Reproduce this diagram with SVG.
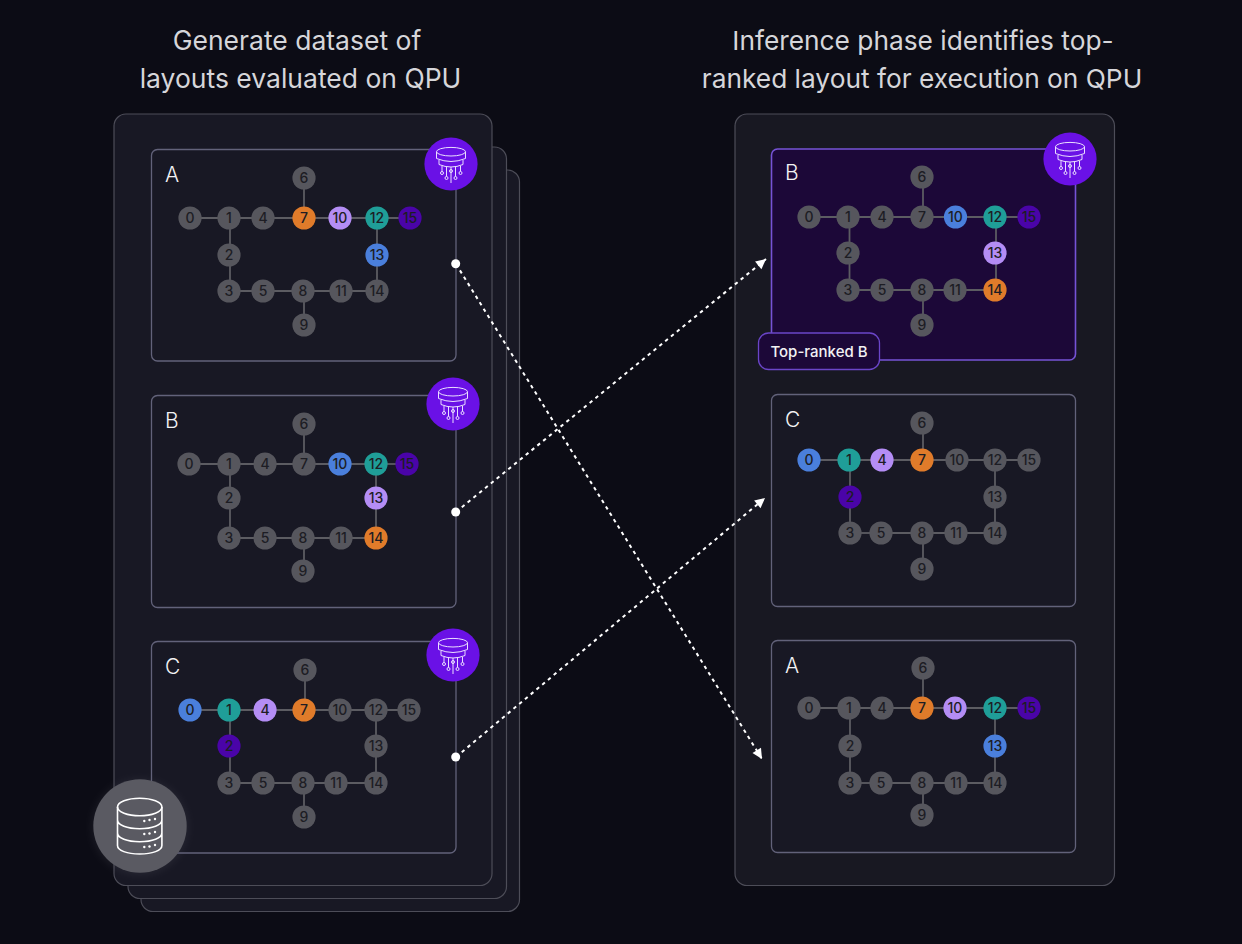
<svg xmlns="http://www.w3.org/2000/svg" width="1242" height="944" viewBox="0 0 1242 944">
<style>
.title{font:400 26.5px "Inter","Liberation Sans",sans-serif;fill:#d6d6da;text-anchor:middle}
.titler{font-size:26.3px}
.panel{fill:#181824;stroke:#4d4d58;stroke-width:1.2}
.panelr{fill:#181822;stroke:#4d4d58;stroke-width:1.2}
.card{fill:#181824;stroke:#62627a;stroke-width:1.3}
.cardhi{fill:#1c0838;stroke:#7653d6;stroke-width:1.6}
.pill{fill:#1c0838;stroke:#6a45c8;stroke-width:1.3}
.pilltext{font:500 15px "Inter","Liberation Sans",sans-serif;fill:#f2f2f4;text-anchor:middle}
.letter{font:300 21px "Inter","Liberation Sans",sans-serif;fill:#f2f2f4}
.edges line{stroke:#5c5c62;stroke-width:1.8}
.flow{stroke:#fff;stroke-width:2;stroke-dasharray:3.5 4;fill:none}
.dot{fill:#fff}
.n circle{r:11.6px}
.n text{font:500 14px "Inter","Liberation Sans",sans-serif;text-anchor:middle;fill:#1d1d24}
.g circle{fill:#56565d}
.o circle{fill:#e07b2a}
.l circle{fill:#b48df5}
.t circle{fill:#1f9e98}
.p circle{fill:#4a04a8}
.b circle{fill:#4a7fdc}
.qbg{fill:#6a11e6}
.qi{fill:none;stroke:#eadfff;stroke-width:1}
.db{fill:#5a5a62}
.dbi{fill:none;stroke:#fff;stroke-width:1.6}
</style>
<defs>
<marker id="head" markerUnits="userSpaceOnUse" markerWidth="12" markerHeight="12" viewBox="0 0 12 12" refX="11" refY="6" orient="auto"><path d="M1 1 L11 6 L1 11 Z" fill="#fff"/></marker>
<filter id="glow" x="-30%" y="-30%" width="160%" height="160%"><feGaussianBlur stdDeviation="5"/></filter>
<symbol id="qpu" overflow="visible">
<circle class="qbg" r="26.6"/>
<ellipse class="qi" cx="0" cy="-12.3" rx="14.5" ry="4.3"/>
<path class="qi" d="M-14.5 -12.3V-5.5Q-7 -2.5 0 -2.5T14.5 -5.5V-12.3M-12 -4V0.5Q-6 3 0 3T12 0.5V-4M-9 2V7.5M-4.5 3V12.5M0 3V19M4.5 3V12.5M9.5 2V7.5"/>
<circle class="qi" cx="-9" cy="9" r="1.5"/><circle class="qi" cx="-4.5" cy="14" r="1.5"/><circle class="qi" cx="0" cy="7" r="1.5"/><circle class="qi" cx="4.5" cy="14" r="1.5"/><circle class="qi" cx="9.5" cy="9" r="1.5"/>
</symbol>
</defs>
<rect width="1242" height="944" fill="#0c0c15"/>
<g id="titles">
<text class="title" x="297" y="50">Generate dataset of</text>
<text class="title" x="300.5" y="88">layouts evaluated on QPU</text>
<text class="title titler" x="923" y="50">Inference phase identifies top-</text>
<text class="title titler" x="922" y="88">ranked layout for execution on QPU</text>
</g>
<g id="panels">
<rect class="panel" x="141" y="170" width="378.5" height="741.5" rx="12"/>
<rect class="panel" x="128" y="147" width="378.5" height="751.5" rx="12"/>
<rect class="panel" x="114" y="114" width="378" height="771.5" rx="12"/>
<rect class="panelr" x="735" y="114" width="379.5" height="771.5" rx="12"/>
</g>
<g id="cards">
<g id="card-left-a"><rect class="card" x="151.5" y="149.5" width="304.5" height="211.5" rx="6"/><text class="letter" x="165" y="182">A</text></g>
<g id="card-left-b"><rect class="card" x="151.5" y="395.5" width="304.5" height="212" rx="6"/><text class="letter" x="165" y="428">B</text></g>
<g id="card-left-c"><rect class="card" x="151.5" y="641.5" width="304.5" height="211.5" rx="6"/><text class="letter" x="165" y="674">C</text></g>
<g id="card-right-b"><rect class="cardhi" x="771.5" y="149" width="304" height="211" rx="6"/><text class="letter" x="785" y="180">B</text></g>
<g id="card-right-c"><rect class="card" x="771.5" y="394.5" width="304" height="212" rx="6"/><text class="letter" x="785" y="427">C</text></g>
<g id="card-right-a"><rect class="card" x="771.5" y="640.5" width="304" height="212" rx="6"/><text class="letter" x="785" y="673">A</text></g>
</g>
<g id="connectors">
<g class="edges" id="edges-left-a">
<line x1="190" y1="218" x2="229" y2="218"/><line x1="229" y1="218" x2="263" y2="218"/><line x1="263" y1="218" x2="304" y2="218"/><line x1="304" y1="218" x2="340" y2="218"/><line x1="340" y1="218" x2="377" y2="218"/><line x1="377" y1="218" x2="410" y2="218"/><line x1="304" y1="178" x2="304" y2="218"/><line x1="230" y1="218" x2="230" y2="255"/><line x1="230" y1="255" x2="230" y2="291"/><line x1="229" y1="291" x2="263" y2="291"/><line x1="263" y1="291" x2="303" y2="291"/><line x1="303" y1="291" x2="341" y2="291"/><line x1="341" y1="291" x2="377" y2="291"/><line x1="377" y1="218" x2="377" y2="255"/><line x1="377" y1="255" x2="377" y2="291"/><line x1="304" y1="291" x2="304" y2="325"/>
</g>
<g class="edges" id="edges-left-b">
<line x1="189" y1="464" x2="229" y2="464"/><line x1="229" y1="464" x2="265" y2="464"/><line x1="265" y1="464" x2="304" y2="464"/><line x1="304" y1="464" x2="340" y2="464"/><line x1="340" y1="464" x2="376" y2="464"/><line x1="376" y1="464" x2="407" y2="464"/><line x1="304" y1="424" x2="304" y2="464"/><line x1="230" y1="464" x2="230" y2="498"/><line x1="230" y1="498" x2="230" y2="538"/><line x1="229" y1="538" x2="265" y2="538"/><line x1="265" y1="538" x2="303" y2="538"/><line x1="303" y1="538" x2="341" y2="538"/><line x1="341" y1="538" x2="376" y2="538"/><line x1="376" y1="464" x2="376" y2="498"/><line x1="376" y1="498" x2="376" y2="538"/><line x1="304" y1="538" x2="304" y2="571"/>
</g>
<g class="edges" id="edges-left-c">
<line x1="190" y1="710" x2="229" y2="710"/><line x1="229" y1="710" x2="265" y2="710"/><line x1="265" y1="710" x2="304" y2="710"/><line x1="304" y1="710" x2="340" y2="710"/><line x1="340" y1="710" x2="376" y2="710"/><line x1="376" y1="710" x2="409" y2="710"/><line x1="305" y1="670" x2="305" y2="710"/><line x1="230" y1="710" x2="230" y2="746"/><line x1="230" y1="746" x2="230" y2="783"/><line x1="229" y1="783" x2="263" y2="783"/><line x1="263" y1="783" x2="303" y2="783"/><line x1="303" y1="783" x2="336" y2="783"/><line x1="336" y1="783" x2="376" y2="783"/><line x1="376" y1="710" x2="376" y2="746"/><line x1="376" y1="746" x2="376" y2="783"/><line x1="304" y1="783" x2="304" y2="817"/>
</g>
<g class="edges" id="edges-right-b">
<line x1="809" y1="217" x2="848" y2="217"/><line x1="848" y1="217" x2="882" y2="217"/><line x1="882" y1="217" x2="922" y2="217"/><line x1="922" y1="217" x2="955" y2="217"/><line x1="955" y1="217" x2="995" y2="217"/><line x1="995" y1="217" x2="1029" y2="217"/><line x1="923" y1="177" x2="923" y2="217"/><line x1="849.5" y1="217" x2="849.5" y2="253"/><line x1="849.5" y1="253" x2="849.5" y2="290"/><line x1="848" y1="290" x2="882" y2="290"/><line x1="882" y1="290" x2="922" y2="290"/><line x1="922" y1="290" x2="955" y2="290"/><line x1="955" y1="290" x2="995" y2="290"/><line x1="996" y1="217" x2="996" y2="253"/><line x1="996" y1="253" x2="996" y2="290"/><line x1="923" y1="290" x2="923" y2="325"/>
</g>
<g class="edges" id="edges-right-c">
<line x1="809" y1="460" x2="849" y2="460"/><line x1="849" y1="460" x2="882" y2="460"/><line x1="882" y1="460" x2="922" y2="460"/><line x1="922" y1="460" x2="957" y2="460"/><line x1="957" y1="460" x2="995" y2="460"/><line x1="995" y1="460" x2="1029" y2="460"/><line x1="923" y1="423" x2="923" y2="460"/><line x1="850" y1="460" x2="850" y2="497"/><line x1="850" y1="497" x2="850" y2="533"/><line x1="850" y1="533" x2="881" y2="533"/><line x1="881" y1="533" x2="922" y2="533"/><line x1="922" y1="533" x2="956" y2="533"/><line x1="956" y1="533" x2="995" y2="533"/><line x1="995" y1="460" x2="995" y2="497"/><line x1="995" y1="497" x2="995" y2="533"/><line x1="923" y1="533" x2="923" y2="569"/>
</g>
<g class="edges" id="edges-right-a">
<line x1="809" y1="708" x2="849" y2="708"/><line x1="849" y1="708" x2="882" y2="708"/><line x1="882" y1="708" x2="922" y2="708"/><line x1="922" y1="708" x2="955" y2="708"/><line x1="955" y1="708" x2="995" y2="708"/><line x1="995" y1="708" x2="1029" y2="708"/><line x1="923" y1="668" x2="923" y2="708"/><line x1="850" y1="708" x2="850" y2="746"/><line x1="850" y1="746" x2="850" y2="783"/><line x1="850" y1="783" x2="881" y2="783"/><line x1="881" y1="783" x2="922" y2="783"/><line x1="922" y1="783" x2="956" y2="783"/><line x1="956" y1="783" x2="995" y2="783"/><line x1="995" y1="708" x2="995" y2="746"/><line x1="995" y1="746" x2="995" y2="783"/><line x1="923" y1="783" x2="923" y2="815"/>
</g>
<g id="flows">
<line class="flow" x1="456" y1="264" x2="762" y2="759" marker-end="url(#head)"/>
<line class="flow" x1="456" y1="512" x2="766" y2="259" marker-end="url(#head)"/>
<line class="flow" x1="456" y1="757" x2="765" y2="498" marker-end="url(#head)"/>
<circle class="dot" cx="455.7" cy="263.7" r="4.5"/>
<circle class="dot" cx="455.7" cy="512" r="4.5"/>
<circle class="dot" cx="455.7" cy="757" r="4.5"/>
</g>
</g>
<g id="nodes-left-a">
<g id="la0" class="n g"><circle cx="190" cy="218"/><text x="190" y="223">0</text></g>
<g id="la1" class="n g"><circle cx="229" cy="218"/><text x="229" y="223">1</text></g>
<g id="la4" class="n g"><circle cx="263" cy="218"/><text x="263" y="223">4</text></g>
<g id="la7" class="n o"><circle cx="304" cy="218"/><text x="304" y="223">7</text></g>
<g id="la10" class="n l"><circle cx="340" cy="218"/><text x="340" y="223">10</text></g>
<g id="la12" class="n t"><circle cx="377" cy="218"/><text x="377" y="223">12</text></g>
<g id="la15" class="n p"><circle cx="410" cy="218"/><text x="410" y="223">15</text></g>
<g id="la6" class="n g"><circle cx="304" cy="178"/><text x="304" y="183">6</text></g>
<g id="la2" class="n g"><circle cx="229" cy="255"/><text x="229" y="260">2</text></g>
<g id="la13" class="n b"><circle cx="377" cy="255"/><text x="377" y="260">13</text></g>
<g id="la3" class="n g"><circle cx="229" cy="291"/><text x="229" y="296">3</text></g>
<g id="la5" class="n g"><circle cx="263" cy="291"/><text x="263" y="296">5</text></g>
<g id="la8" class="n g"><circle cx="303" cy="291"/><text x="303" y="296">8</text></g>
<g id="la11" class="n g"><circle cx="341" cy="291"/><text x="341" y="296">11</text></g>
<g id="la14" class="n g"><circle cx="377" cy="291"/><text x="377" y="296">14</text></g>
<g id="la9" class="n g"><circle cx="304" cy="325"/><text x="304" y="330">9</text></g>
</g>
<g id="nodes-left-b">
<g id="lb0" class="n g"><circle cx="189" cy="464"/><text x="189" y="469">0</text></g>
<g id="lb1" class="n g"><circle cx="229" cy="464"/><text x="229" y="469">1</text></g>
<g id="lb4" class="n g"><circle cx="265" cy="464"/><text x="265" y="469">4</text></g>
<g id="lb7" class="n g"><circle cx="304" cy="464"/><text x="304" y="469">7</text></g>
<g id="lb10" class="n b"><circle cx="340" cy="464"/><text x="340" y="469">10</text></g>
<g id="lb12" class="n t"><circle cx="376" cy="464"/><text x="376" y="469">12</text></g>
<g id="lb15" class="n p"><circle cx="407" cy="464"/><text x="407" y="469">15</text></g>
<g id="lb6" class="n g"><circle cx="304" cy="424"/><text x="304" y="429">6</text></g>
<g id="lb2" class="n g"><circle cx="229" cy="498"/><text x="229" y="503">2</text></g>
<g id="lb13" class="n l"><circle cx="376" cy="498"/><text x="376" y="503">13</text></g>
<g id="lb3" class="n g"><circle cx="229" cy="538"/><text x="229" y="543">3</text></g>
<g id="lb5" class="n g"><circle cx="265" cy="538"/><text x="265" y="543">5</text></g>
<g id="lb8" class="n g"><circle cx="303" cy="538"/><text x="303" y="543">8</text></g>
<g id="lb11" class="n g"><circle cx="341" cy="538"/><text x="341" y="543">11</text></g>
<g id="lb14" class="n o"><circle cx="376" cy="538"/><text x="376" y="543">14</text></g>
<g id="lb9" class="n g"><circle cx="303" cy="571"/><text x="303" y="576">9</text></g>
</g>
<g id="nodes-left-c">
<g id="lc0" class="n b"><circle cx="190" cy="710"/><text x="190" y="715">0</text></g>
<g id="lc1" class="n t"><circle cx="229" cy="710"/><text x="229" y="715">1</text></g>
<g id="lc4" class="n l"><circle cx="265" cy="710"/><text x="265" y="715">4</text></g>
<g id="lc7" class="n o"><circle cx="304" cy="710"/><text x="304" y="715">7</text></g>
<g id="lc10" class="n g"><circle cx="340" cy="710"/><text x="340" y="715">10</text></g>
<g id="lc12" class="n g"><circle cx="376" cy="710"/><text x="376" y="715">12</text></g>
<g id="lc15" class="n g"><circle cx="409" cy="710"/><text x="409" y="715">15</text></g>
<g id="lc6" class="n g"><circle cx="305" cy="670"/><text x="305" y="675">6</text></g>
<g id="lc2" class="n p"><circle cx="229" cy="746"/><text x="229" y="751">2</text></g>
<g id="lc13" class="n g"><circle cx="376" cy="746"/><text x="376" y="751">13</text></g>
<g id="lc3" class="n g"><circle cx="229" cy="783"/><text x="229" y="788">3</text></g>
<g id="lc5" class="n g"><circle cx="263" cy="783"/><text x="263" y="788">5</text></g>
<g id="lc8" class="n g"><circle cx="303" cy="783"/><text x="303" y="788">8</text></g>
<g id="lc11" class="n g"><circle cx="336" cy="783"/><text x="336" y="788">11</text></g>
<g id="lc14" class="n g"><circle cx="376" cy="783"/><text x="376" y="788">14</text></g>
<g id="lc9" class="n g"><circle cx="304" cy="817"/><text x="304" y="822">9</text></g>
</g>
<g id="nodes-right-b">
<g id="rb0" class="n g"><circle cx="809" cy="217"/><text x="809" y="222">0</text></g>
<g id="rb1" class="n g"><circle cx="848" cy="217"/><text x="848" y="222">1</text></g>
<g id="rb4" class="n g"><circle cx="882" cy="217"/><text x="882" y="222">4</text></g>
<g id="rb7" class="n g"><circle cx="922" cy="217"/><text x="922" y="222">7</text></g>
<g id="rb10" class="n b"><circle cx="955.5" cy="217"/><text x="955.5" y="222">10</text></g>
<g id="rb12" class="n t"><circle cx="995" cy="217"/><text x="995" y="222">12</text></g>
<g id="rb15" class="n p"><circle cx="1029" cy="217"/><text x="1029" y="222">15</text></g>
<g id="rb6" class="n g"><circle cx="922" cy="177"/><text x="922" y="182">6</text></g>
<g id="rb2" class="n g"><circle cx="848" cy="253"/><text x="848" y="258">2</text></g>
<g id="rb13" class="n l"><circle cx="995" cy="253"/><text x="995" y="258">13</text></g>
<g id="rb3" class="n g"><circle cx="848" cy="290"/><text x="848" y="295">3</text></g>
<g id="rb5" class="n g"><circle cx="882" cy="290"/><text x="882" y="295">5</text></g>
<g id="rb8" class="n g"><circle cx="922" cy="290"/><text x="922" y="295">8</text></g>
<g id="rb11" class="n g"><circle cx="955" cy="290"/><text x="955" y="295">11</text></g>
<g id="rb14" class="n o"><circle cx="995" cy="290"/><text x="995" y="295">14</text></g>
<g id="rb9" class="n g"><circle cx="922" cy="325"/><text x="922" y="330">9</text></g>
</g>
<g id="nodes-right-c">
<g id="rc0" class="n b"><circle cx="809" cy="460"/><text x="809" y="465">0</text></g>
<g id="rc1" class="n t"><circle cx="849" cy="460"/><text x="849" y="465">1</text></g>
<g id="rc4" class="n l"><circle cx="882" cy="460"/><text x="882" y="465">4</text></g>
<g id="rc7" class="n o"><circle cx="922" cy="460"/><text x="922" y="465">7</text></g>
<g id="rc10" class="n g"><circle cx="957" cy="460"/><text x="957" y="465">10</text></g>
<g id="rc12" class="n g"><circle cx="995" cy="460"/><text x="995" y="465">12</text></g>
<g id="rc15" class="n g"><circle cx="1029" cy="460"/><text x="1029" y="465">15</text></g>
<g id="rc6" class="n g"><circle cx="922" cy="423"/><text x="922" y="428">6</text></g>
<g id="rc2" class="n p"><circle cx="850" cy="497"/><text x="850" y="502">2</text></g>
<g id="rc13" class="n g"><circle cx="995" cy="497"/><text x="995" y="502">13</text></g>
<g id="rc3" class="n g"><circle cx="850" cy="533"/><text x="850" y="538">3</text></g>
<g id="rc5" class="n g"><circle cx="881" cy="533"/><text x="881" y="538">5</text></g>
<g id="rc8" class="n g"><circle cx="922" cy="533"/><text x="922" y="538">8</text></g>
<g id="rc11" class="n g"><circle cx="956" cy="533"/><text x="956" y="538">11</text></g>
<g id="rc14" class="n g"><circle cx="995" cy="533"/><text x="995" y="538">14</text></g>
<g id="rc9" class="n g"><circle cx="922" cy="569"/><text x="922" y="574">9</text></g>
</g>
<g id="nodes-right-a">
<g id="ra0" class="n g"><circle cx="809" cy="708"/><text x="809" y="713">0</text></g>
<g id="ra1" class="n g"><circle cx="849" cy="708"/><text x="849" y="713">1</text></g>
<g id="ra4" class="n g"><circle cx="882" cy="708"/><text x="882" y="713">4</text></g>
<g id="ra7" class="n o"><circle cx="922" cy="708"/><text x="922" y="713">7</text></g>
<g id="ra10" class="n l"><circle cx="955" cy="708"/><text x="955" y="713">10</text></g>
<g id="ra12" class="n t"><circle cx="995" cy="708"/><text x="995" y="713">12</text></g>
<g id="ra15" class="n p"><circle cx="1029" cy="708"/><text x="1029" y="713">15</text></g>
<g id="ra6" class="n g"><circle cx="923" cy="668"/><text x="923" y="673">6</text></g>
<g id="ra2" class="n g"><circle cx="850" cy="746"/><text x="850" y="751">2</text></g>
<g id="ra13" class="n b"><circle cx="995" cy="746"/><text x="995" y="751">13</text></g>
<g id="ra3" class="n g"><circle cx="850" cy="783"/><text x="850" y="788">3</text></g>
<g id="ra5" class="n g"><circle cx="881" cy="783"/><text x="881" y="788">5</text></g>
<g id="ra8" class="n g"><circle cx="922" cy="783"/><text x="922" y="788">8</text></g>
<g id="ra11" class="n g"><circle cx="956" cy="783"/><text x="956" y="788">11</text></g>
<g id="ra14" class="n g"><circle cx="995" cy="783"/><text x="995" y="788">14</text></g>
<g id="ra9" class="n g"><circle cx="922" cy="815"/><text x="922" y="820">9</text></g>
</g>
<g id="qpu-icons">
<use id="qpu-la" href="#qpu" x="451" y="164"/>
<use id="qpu-lb" href="#qpu" x="453" y="404"/>
<use id="qpu-lc" href="#qpu" x="453" y="655"/>
<use id="qpu-rb" href="#qpu" x="1070" y="159"/>
</g>
<g id="top-ranked">
<rect class="pill" x="758.5" y="333" width="121" height="36.5" rx="10"/>
<text class="pilltext" x="819" y="357">Top-ranked B</text>
</g>
<g id="database">
<circle cx="140" cy="827" r="47" fill="#6a6a74" opacity=".2" filter="url(#glow)"/>
<circle class="db" cx="140" cy="826" r="46.7"/>
<ellipse class="dbi" cx="139.7" cy="807" rx="22.2" ry="8.7"/>
<path class="dbi" d="M117.5 807V845.5C117.5 850.5 127 854 139.7 854S161.9 850.5 161.9 845.5V807M117.5 820C117.5 825 127 828.7 139.7 828.7S161.9 825 161.9 820M117.5 833C117.5 838 127 841.7 139.7 841.7S161.9 838 161.9 833"/>
<g class="dot"><circle cx="144.3" cy="821" r="1.2"/><circle cx="149.5" cy="820" r="1.2"/><circle cx="155" cy="819" r="1.2"/><circle cx="144.3" cy="834" r="1.2"/><circle cx="149.5" cy="833.5" r="1.2"/><circle cx="155" cy="832" r="1.2"/><circle cx="144.3" cy="847" r="1.2"/><circle cx="149.5" cy="846.5" r="1.2"/><circle cx="155" cy="845" r="1.2"/></g>
</g>
</svg>
